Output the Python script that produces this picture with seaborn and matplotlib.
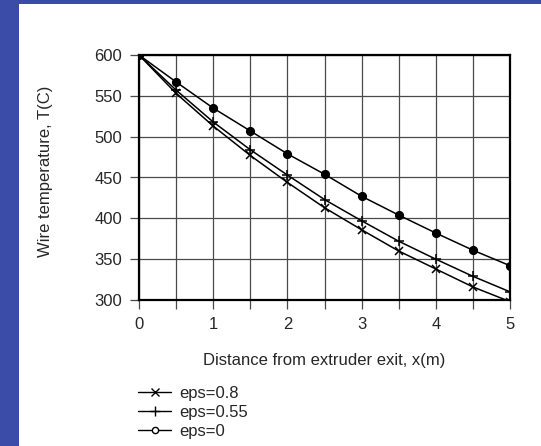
import numpy as np
import pandas as pd
import seaborn as sns
import matplotlib.pyplot as plt
from matplotlib.lines import Line2D
from matplotlib.patches import Rectangle

# Values
distance = [0, 0.5, 1, 1.5, 2, 2.5, 3, 3.5, 4, 4.5, 5]
temp_eps08 = [600, 553, 513, 477, 444, 413, 386, 360, 338, 316, 298]
temp_eps055 = [600, 557, 518, 484, 453, 423, 397, 372, 350, 329, 310]
temp_eps0 = [600, 567, 535, 507, 479, 454, 427, 404, 382, 361, 342]
labels = ["eps=0.8", "eps=0.55", "eps=0"]
markers = ["x", "+", "o"]
marker_sizes = [6, 7, 5.5]

df = pd.DataFrame({
    "x": distance * 3,
    "T": temp_eps08 + temp_eps055 + temp_eps0,
    "series": [labels[0]] * 11 + [labels[1]] * 11 + [labels[2]] * 11,
})

sns.set_style("white")
plt.rcParams["font.family"] = ["Liberation Sans", "DejaVu Sans"]
plt.rcParams["font.size"] = 12

fig = plt.figure(figsize=(5.41, 4.46), dpi=100, facecolor="#3A4BA8")
fig.patches.append(Rectangle((19 / 541, 0), 1, 1 - 4 / 446, transform=fig.transFigure,
                             facecolor="white", edgecolor="none", zorder=-10))
ax = fig.add_axes([139 / 541, 1 - 300 / 446, 371 / 541, 245 / 446])
ax.set_facecolor("white")

for lab, mk, ms in zip(labels, markers, marker_sizes):
    sub = df[df["series"] == lab]
    sns.lineplot(data=sub, x="x", y="T", ax=ax, color="black", lw=1.1,
                 marker=mk, markersize=ms, markeredgewidth=1.1,
                 markeredgecolor="black", markerfacecolor="black", legend=False)

ax.set_xlim(0, 5)
ax.set_ylim(300, 600)
ax.set_xticks([0, 1, 2, 3, 4, 5])
ax.set_xticks(np.arange(0.5, 5, 1), minor=True)
ax.set_yticks(np.arange(300, 601, 50))
ax.grid(True, which="both", color="#4a4a4a", lw=0.9)
ax.tick_params(which="both", direction="out", length=6.5, width=0.9, color="#4a4a4a",
               bottom=True, left=True, labelsize=12)
ax.tick_params(axis="x", pad=6)
ax.tick_params(axis="y", pad=5.5)
for s in ax.spines.values():
    s.set_color("black")
    s.set_linewidth(1.6)

ax.set_xlabel("Distance from extruder exit, x(m)", fontsize=12)
ax.xaxis.label.set_va("center")
ax.xaxis.set_label_coords(0.5, -61 / 245)
ax.set_ylabel("Wire temperature, T(C)", fontsize=12)
ax.yaxis.label.set_va("center")
ax.yaxis.set_label_coords(-94 / 371, 0.527)

handles = [
    Line2D([], [], color="black", lw=1, marker="x", markersize=6, markeredgewidth=1),
    Line2D([], [], color="black", lw=1, marker="+", markersize=7, markeredgewidth=1),
    Line2D([], [], color="black", lw=1, marker="o", markersize=4.5, markeredgewidth=1,
           markerfacecolor="white"),
]
fig.legend(handles, labels, loc="upper left", bbox_to_anchor=(138 / 541, 1 - 386 / 446),
           frameon=False, handlelength=2.0, handletextpad=0.5, labelspacing=0.24,
           fontsize=12, borderaxespad=0, borderpad=0)

fig.savefig("out.png", dpi=100, facecolor=fig.get_facecolor())
